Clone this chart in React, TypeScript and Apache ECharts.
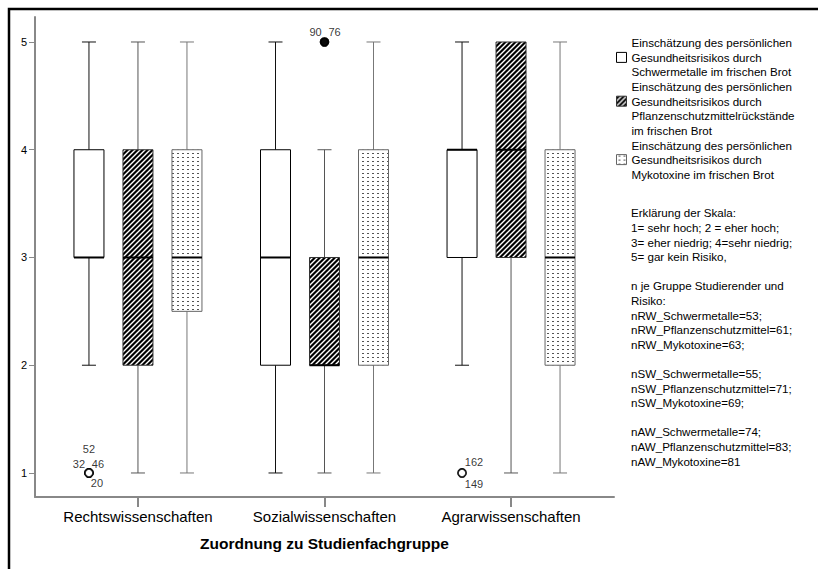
import React, { useEffect, useRef } from 'react';
import * as echarts from 'echarts';

const categories = ['Rechtswissenschaften', 'Sozialwissenschaften', 'Agrarwissenschaften'];
const seriesNames = [
  'Einschätzung des persönlichen\nGesundheitsrisikos durch\nSchwermetalle im frischen Brot',
  'Einschätzung des persönlichen\nGesundheitsrisikos durch\nPflanzenschutzmittelrückstände\nim frischen Brot',
  'Einschätzung des persönlichen\nGesundheitsrisikos durch\nMykotoxine im frischen Brot',
];
// per category: [min, q1, median, q3, max]
const schwermetalle = [[2, 3, 3, 4, 5], [1, 2, 3, 4, 5], [2, 3, 4, 4, 5]];
const pflanzenschutz = [[1, 2, 3, 4, 5], [1, 2, 2, 3, 4], [1, 3, 4, 5, 5]];
const mykotoxine = [[1, 2.5, 3, 4, 5], [1, 2, 3, 4, 5], [1, 2, 3, 4, 5]];
const yTicks = [1, 2, 3, 4, 5];
const xTicks = [0, 1, 2];
// outliers: category index, series index, value, case numbers, extreme
const outlierCat = [0, 1, 2];
const outlierSeries = [0, 1, 0];
const outlierValue = [1, 5, 1];
const outlierIds = [['52', '32', '46', '20'], ['90', '76'], ['162', '149']];
const outlierExtreme = [false, true, false];
const noteLines = [
  'Erklärung der Skala:',
  '1= sehr hoch; 2 = eher hoch;',
  '3= eher niedrig; 4=sehr niedrig;',
  '5= gar kein Risiko,',
  '',
  'n je Gruppe Studierender und',
  'Risiko:',
  'nRW_Schwermetalle=53;',
  'nRW_Pflanzenschutzmittel=61;',
  'nRW_Mykotoxine=63;',
  '',
  'nSW_Schwermetalle=55;',
  'nSW_Pflanzenschutzmittel=71;',
  'nSW_Mykotoxine=69;',
  '',
  'nAW_Schwermetalle=74;',
  'nAW_Pflanzenschutzmittel=83;',
  'nAW_Mykotoxine=81',
];

// layout constants
const FONT = "Arial, 'Liberation Sans', sans-serif";
const SERIES_OFFSET_PX = [-49, 0, 49];
const BOX_W = 30;
const CAP_W = 14;
const LH = 14.6;
const LABEL_OFFSETS = [
  [[0, -24], [-10, -9], [9, -9], [8, 10]],
  [[-9, -10], [10, -10]],
  [[12, -11], [12, 11]],
];

function makeHatch() {
  const s = 5;
  const c = document.createElement('canvas');
  c.width = s; c.height = s;
  const ctx = c.getContext('2d')!;
  ctx.fillStyle = '#000';
  ctx.fillRect(0, 0, s, s);
  ctx.strokeStyle = '#fff';
  ctx.lineWidth = 1.4;
  ctx.beginPath();
  ctx.moveTo(-1, s + 1); ctx.lineTo(s + 1, -1);
  ctx.moveTo(-1, 1); ctx.lineTo(1, -1);
  ctx.moveTo(s - 1, s + 1); ctx.lineTo(s + 1, s - 1);
  ctx.stroke();
  return { image: c, repeat: 'repeat', imageWidth: s, imageHeight: s };
}

function makeDots() {
  const w = 5, h = 4;
  const c = document.createElement('canvas');
  c.width = w; c.height = h;
  const ctx = c.getContext('2d')!;
  ctx.fillStyle = '#fff';
  ctx.fillRect(0, 0, w, h);
  ctx.fillStyle = '#555';
  ctx.fillRect(2, 1, 2, 1);
  return { image: c, repeat: 'repeat', imageWidth: w, imageHeight: h };
}

export default function App() {
  const ref = useRef<HTMLDivElement>(null);
  useEffect(() => {
    if (!ref.current) return;
    const chart = echarts.init(ref.current, null, { renderer: 'svg' });
    const fills = [
      { color: '#fff', border: '#000', whisker: '#111' },
      { color: makeHatch(), border: '#333', whisker: '#555' },
      { color: makeDots(), border: '#666', whisker: '#777' },
    ];
    const dataSets = [schwermetalle, pflanzenschutz, mykotoxine];

    const boxSeries = dataSets.map((ds, si) => ({
      type: 'custom',
      name: seriesNames[si],
      encode: { x: 0, y: [1, 2, 3, 4, 5] },
      itemStyle: { color: fills[si].color, borderColor: fills[si].border, borderWidth: 1 },
      data: ds.map((d, ci) => [ci, ...d]),
      renderItem: (params: any, api: any) => {
        const cat = api.value(0);
        const vmin = api.value(1), q1 = api.value(2), med = api.value(3), q3 = api.value(4), vmax = api.value(5);
        const x = api.coord([cat, 0])[0] + SERIES_OFFSET_PX[si];
        const y = (v: number) => api.coord([cat, v])[1];
        const wc = fills[si].whisker;
        const children: any[] = [];
        const line = (x1: number, y1: number, x2: number, y2: number, stroke: string, lw: number) => ({
          type: 'line',
          shape: { x1, y1, x2, y2 },
          style: { stroke, lineWidth: lw },
        });
        if (vmax > q3) {
          children.push(line(x, y(q3), x, y(vmax), wc, 1));
          children.push(line(x - CAP_W / 2, y(vmax), x + CAP_W / 2, y(vmax), wc, 1));
        }
        if (vmin < q1) {
          children.push(line(x, y(q1), x, y(vmin), wc, 1));
          children.push(line(x - CAP_W / 2, y(vmin), x + CAP_W / 2, y(vmin), wc, 1));
        }
        children.push({
          type: 'rect',
          shape: { x: x - BOX_W / 2, y: y(q3), width: BOX_W, height: y(q1) - y(q3) },
          style: { fill: fills[si].color, stroke: fills[si].border, lineWidth: 1 },
        });
        children.push(line(x - BOX_W / 2, y(med), x + BOX_W / 2, y(med), '#000', 2));
        return { type: 'group', children };
      },
    }));

    const outlierData: any[] = [];
    outlierCat.forEach((cat, oi) => {
      outlierIds[oi].forEach((id, k) => {
        outlierData.push({
          value: [cat, outlierValue[oi]],
          symbolOffset: [SERIES_OFFSET_PX[outlierSeries[oi]], 0],
          itemStyle: {
            color: outlierExtreme[oi] ? '#000' : '#fff',
            borderColor: '#000',
            borderWidth: 1.6,
          },
          label: {
            show: true,
            formatter: id,
            position: 'inside',
            offset: LABEL_OFFSETS[oi][k],
            fontSize: 11,
            color: '#000',
            fontFamily: FONT,
          },
        });
      });
    });

    const option: any = {
      animation: false,
      backgroundColor: '#fff',
      textStyle: { fontFamily: FONT },
      grid: { left: 35, right: 204, top: 17, bottom: 72 },
      xAxis: {
        type: 'value',
        min: -0.552,
        max: 2.552,
        splitLine: { show: false },
        axisLine: { show: true, onZero: false, lineStyle: { color: '#888', width: 2 } },
        axisTick: { show: true, customValues: xTicks, length: 10, lineStyle: { color: '#888', width: 2 } },
        axisLabel: {
          customValues: xTicks,
          formatter: (v: number) => categories[Math.round(v)] ?? '',
          fontSize: 15,
          color: '#000',
          margin: 12,
          fontFamily: FONT,
        },
        name: 'Zuordnung zu Studienfachgruppe',
        nameLocation: 'middle',
        nameGap: 38,
        nameTextStyle: { fontSize: 15.5, fontWeight: 'bold', color: '#000', fontFamily: FONT },
      },
      yAxis: {
        type: 'value',
        min: 0.777,
        max: 5.232,
        splitLine: { show: false },
        axisLine: { show: true, onZero: false, lineStyle: { color: '#888', width: 2 } },
        axisTick: { show: true, customValues: yTicks, length: 6, lineStyle: { color: '#888', width: 1 } },
        axisLabel: { customValues: yTicks, fontSize: 11, color: '#000', margin: 8, fontFamily: FONT },
      },
      legend: {
        data: seriesNames,
        // icon sits beside the second text line: blank leading/trailing lines shift it
        formatter: (name: string) => {
          const i = seriesNames.indexOf(name);
          if (i === 1) return '\n' + name;
          if (i === 2) return '\n' + name + '\n';
          return name;
        },
        orient: 'vertical',
        left: 611,
        top: 30.5,
        icon: 'rect',
        itemWidth: 10,
        itemHeight: 10,
        itemGap: -LH,
        selectedMode: false,
        itemStyle: { borderWidth: 1 },
        textStyle: { fontSize: 11.6, lineHeight: LH, color: '#000', fontFamily: FONT },
      },
      graphic: [
        {
          type: 'rect',
          shape: { x: 9, y: 9, width: 830, height: 580 },
          style: { fill: 'none', stroke: '#000', lineWidth: 2.5 },
          silent: true,
        },
        {
          type: 'text',
          left: 631,
          top: 205.5,
          style: {
            text: noteLines.join('\n'),
            font: `11.6px ${FONT}`,
            lineHeight: LH,
            fill: '#000',
          },
        },
      ],
      series: [
        ...boxSeries,
        {
          type: 'scatter',
          name: 'Ausreißer',
          symbol: 'circle',
          symbolSize: 8,
          z: 5,
          data: outlierData,
        },
      ],
    };
    chart.setOption(option);
    return () => chart.dispose();
  }, []);
  return (
    <div
      ref={ref}
      style={{ position: 'fixed', left: 0, top: 0, width: 818, height: 569, background: '#fff' }}
    />
  );
}
